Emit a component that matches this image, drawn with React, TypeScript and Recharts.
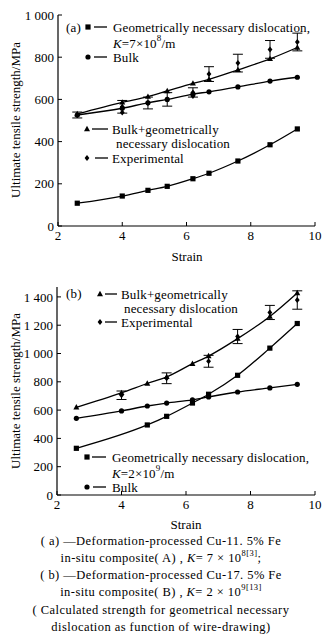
import React from 'react';
import { ComposedChart, Line, Scatter, XAxis, YAxis, ErrorBar } from 'recharts';

const FONT = '"Liberation Serif", "Times New Roman", serif';

// ---------- Panel (a) ----------
const strainA = [2.6, 4.0, 4.8, 5.4, 6.2, 6.7, 7.6, 8.6, 9.45];
const gndA = [108, 142, 169, 188, 224, 250, 308, 385, 460];
const bulkA = [526, 558, 584, 600, 625, 636, 659, 687, 705];
const sumA = [531, 586, 613, 640, 676, 695, 740, 792, 846];
const expStrainA = [2.6, 4.0, 4.0, 4.8, 5.4, 6.2, 6.2, 6.7, 7.6, 8.6, 9.45];
const expA = [526, 565, 538, 583, 600, 633, 616, 720, 772, 837, 872];
const expErrA = [14, 30, 0, 28, 32, 22, 0, 35, 42, 42, 42];
const yTicksA = [0, 200, 400, 600, 800, 1000];

// ---------- Panel (b) ----------
const strainGndB = [2.6, 4.8, 5.4, 6.2, 6.7, 7.6, 8.6, 9.45];
const gndB = [330, 495, 556, 650, 712, 846, 1038, 1212];
const strainB = [2.6, 4.0, 4.8, 5.4, 6.2, 6.7, 7.6, 8.6, 9.45];
const bulkB = [542, 594, 629, 650, 672, 693, 728, 757, 782];
const sumB = [620, 722, 788, 835, 928, 982, 1105, 1262, 1428];
const expStrainB = [4.0, 5.4, 6.7, 7.6, 8.6, 9.45];
const expB = [705, 825, 945, 1120, 1290, 1378];
const expErrB = [30, 38, 42, 50, 50, 65];
const yTicksB = [0, 200, 400, 600, 800, 1000, 1200, 1400];

const xTicks = [2, 4, 6, 8, 10];

const pts = (xs: number[], ys: number[]) => xs.map((x, i) => ({ x, y: ys[i] }));
const expPts = (xs: number[], ys: number[], es: number[]) =>
  xs.map((x, i) => ({ x, y: ys[i], err: es[i] > 0 ? es[i] : undefined }));

const fmtY = (v: number) =>
  v >= 1000 ? `${Math.floor(v / 1000)} ${String(v % 1000).padStart(3, '0')}` : String(v);

const SquareDot = (p: any) =>
  p.cx == null ? <g key={`s${p.index}`} /> : (
    <rect key={`s${p.index}`} x={p.cx - 2.6} y={p.cy - 2.6} width={5.2} height={5.2} fill="#000" />
  );
const CircleDot = (p: any) =>
  p.cx == null ? <g key={`c${p.index}`} /> : (
    <circle key={`c${p.index}`} cx={p.cx} cy={p.cy} r={2.6} fill="#000" />
  );
const TriDot = (p: any) =>
  p.cx == null ? <g key={`t${p.index}`} /> : (
    <path key={`t${p.index}`} d={`M${p.cx},${p.cy - 3.2} L${p.cx + 3},${p.cy + 2.2} L${p.cx - 3},${p.cy + 2.2} Z`} fill="#000" />
  );
const ExpShape = (p: any) => (
  <path d={`M${p.cx},${p.cy - 3} L${p.cx + 2.4},${p.cy} L${p.cx},${p.cy + 3} L${p.cx - 2.4},${p.cy} Z`} fill="#000" />
);

const tickStyle = { fill: '#000', fontSize: 13, fontFamily: FONT };

function Panel(props: any) {
  const { height, xHeight, yWidth, yMax, yTicks, gnd, bulk, sum, exp } = props;
  return (
    <ComposedChart width={322} height={height} margin={{ top: 15, right: 7, bottom: 0, left: 0 }}>
      <XAxis xAxisId="b" dataKey="x" type="number" domain={[2, 10]} ticks={xTicks} interval={0} allowDataOverflow
        height={xHeight} tickSize={-4} tickMargin={9} tick={tickStyle}
        axisLine={{ stroke: '#000', strokeWidth: 1.2 }} tickLine={{ stroke: '#000', strokeWidth: 1 }} />
      <XAxis xAxisId="t" orientation="top" dataKey="x" type="number" domain={[2, 10]} allowDataOverflow
        height={0} tick={false} tickLine={false} axisLine={{ stroke: '#000', strokeWidth: 1 }} />
      <YAxis yAxisId="l" type="number" domain={[0, yMax]} ticks={yTicks} interval={0} allowDataOverflow
        width={yWidth} tickSize={-4} tickMargin={8} tickFormatter={fmtY} tick={tickStyle}
        axisLine={{ stroke: '#000', strokeWidth: 1.2 }} tickLine={{ stroke: '#000', strokeWidth: 1 }} />
      <YAxis yAxisId="r" orientation="right" type="number" domain={[0, yMax]} allowDataOverflow
        width={0} tick={false} tickLine={false} axisLine={{ stroke: '#000', strokeWidth: 1 }} />
      <Line xAxisId="b" yAxisId="l" data={gnd} dataKey="y" type="monotone" stroke="#000" strokeWidth={1.3} dot={SquareDot} isAnimationActive={false} />
      <Line xAxisId="b" yAxisId="l" data={bulk} dataKey="y" type="monotone" stroke="#000" strokeWidth={1.3} dot={CircleDot} isAnimationActive={false} />
      <Line xAxisId="b" yAxisId="r" data={sum} dataKey="y" type="monotone" stroke="#000" strokeWidth={1.3} dot={TriDot} isAnimationActive={false} />
      <Scatter xAxisId="t" yAxisId="r" data={exp} dataKey="y" shape={ExpShape} isAnimationActive={false}>
        <ErrorBar dataKey="err" direction="y" width={5} stroke="#000" strokeWidth={1} />
      </Scatter>
    </ComposedChart>
  );
}

const Sq = ({ x, y }: { x: number; y: number }) => (
  <rect x={x - 2.6} y={y - 2.6} width={5.2} height={5.2} fill="#000" />
);
const Ci = ({ x, y }: { x: number; y: number }) => <circle cx={x} cy={y} r={2.6} fill="#000" />;
const Tr = ({ x, y }: { x: number; y: number }) => (
  <path d={`M${x},${y - 3.2} L${x + 3},${y + 2.2} L${x - 3},${y + 2.2} Z`} fill="#000" />
);
const Di = ({ x, y }: { x: number; y: number }) => (
  <path d={`M${x},${y - 3} L${x + 2.4},${y} L${x},${y + 3} L${x - 2.4},${y} Z`} fill="#000" />
);
const Dash = ({ x1, x2, y }: { x1: number; x2: number; y: number }) => (
  <line x1={x1} x2={x2} y1={y} y2={y} stroke="#000" strokeWidth={1.3} />
);

const LT = ({ x, y, children }: { x: number; y: number; children: React.ReactNode }) => (
  <text x={x} y={y} fontFamily={FONT} fontSize={13} letterSpacing={0.15} fill="#000" dominantBaseline="central">
    {children}
  </text>
);

const captionLines = [
  '( a) —Deformation-processed Cu-11. 5% Fe',
  null,
  '( b) —Deformation-processed Cu-17. 5% Fe',
  null,
  '( Calculated strength for geometrical necessary',
  'dislocation as function of wire-drawing)',
];
const captionY = [541, 558, 575, 592, 610, 627];
const CAP_FS = 12.5;
const CAP_LS = 0.45;

export default function App() {
  return (
    <div style={{ position: 'relative', width: 322, height: 638, background: '#fff', overflow: 'hidden' }}>
      <style>{'html,body{margin:0;padding:0;background:#fff;}'}</style>
      <div style={{ position: 'absolute', left: 0, top: 0 }}>
        <Panel height={270} xHeight={44} yWidth={58} yMax={1000} yTicks={yTicksA}
          gnd={pts(strainA, gndA)} bulk={pts(strainA, bulkA)} sum={pts(strainA, sumA)}
          exp={expPts(expStrainA, expA, expErrA)} />
      </div>
      <div style={{ position: 'absolute', left: 0, top: 272 }}>
        <Panel height={260} xHeight={37} yWidth={57} yMax={1470} yTicks={yTicksB}
          gnd={pts(strainGndB, gndB)} bulk={pts(strainB, bulkB)} sum={pts(strainB, sumB)}
          exp={expPts(expStrainB, expB, expErrB)} />
      </div>
      <svg width={322} height={638} style={{ position: 'absolute', left: 0, top: 0, pointerEvents: 'none' }}>
        <text x={15} y={120} transform="rotate(-90 15 120)" textAnchor="middle" dominantBaseline="central" fontFamily={FONT} fontSize={13}>
          Ultimate tensile strength/MPa
        </text>
        <text x={15} y={391} transform="rotate(-90 15 391)" textAnchor="middle" dominantBaseline="central" fontFamily={FONT} fontSize={13}>
          Ultimate tensile strength/MPa
        </text>
        <text x={187} y={256} textAnchor="middle" dominantBaseline="central" fontFamily={FONT} fontSize={13}>Strain</text>
        <text x={186} y={524} textAnchor="middle" dominantBaseline="central" fontFamily={FONT} fontSize={13}>Strain</text>

        {/* legend (a) */}
        <LT x={66} y={27}>(a)</LT>
        <Sq x={88} y={27} />
        <Dash x1={94} x2={107} y={27} />
        <LT x={113} y={27}>Geometrically necessary dislocation,</LT>
        <LT x={113} y={43}>
          <tspan fontStyle="italic">K</tspan>=7×10
          <tspan fontSize={9} dy={-5}>8</tspan>
          <tspan dy={5}>/m</tspan>
        </LT>
        <Ci x={88} y={57} />
        <Dash x1={94} x2={107} y={57} />
        <LT x={113} y={57}>Bulk</LT>
        <Tr x={87} y={129} />
        <Dash x1={92} x2={108} y={129} />
        <LT x={112} y={129}>Bulk+geometrically</LT>
        <LT x={116} y={143}>necessary dislocation</LT>
        <Di x={87} y={158} />
        <Dash x1={95} x2={108} y={158} />
        <LT x={112} y={158}>Experimental</LT>

        {/* legend (b) */}
        <LT x={66} y={293}>(b)</LT>
        <Tr x={100} y={294} />
        <Dash x1={105} x2={117} y={294} />
        <LT x={121} y={294}>Bulk+geometrically</LT>
        <LT x={124} y={308}>necessary dislocation</LT>
        <Di x={100} y={322} />
        <Dash x1={105} x2={117} y={322} />
        <LT x={121} y={322}>Experimental</LT>
        <Sq x={87} y={457} />
        <Dash x1={92} x2={106} y={457} />
        <LT x={112} y={457}>Geometrically necessary dislocation,</LT>
        <LT x={112} y={473}>
          <tspan fontStyle="italic">K</tspan>=2×10
          <tspan fontSize={9} dy={-5}>9</tspan>
          <tspan dy={5}>/m</tspan>
        </LT>
        <Ci x={87} y={487} />
        <Dash x1={93} x2={106} y={487} />
        <LT x={112} y={487}>Bulk</LT>

        {/* caption */}
        {captionLines.map((t, i) =>
          t ? (
            <text key={i} x={161} y={captionY[i]} textAnchor="middle" dominantBaseline="central" fontFamily={FONT} fontSize={CAP_FS} letterSpacing={CAP_LS}>
              {t}
            </text>
          ) : null
        )}
        <text x={161} y={captionY[1]} textAnchor="middle" dominantBaseline="central" fontFamily={FONT} fontSize={CAP_FS} letterSpacing={CAP_LS}>
          in-situ composite( A) ,{'  '}
          <tspan fontStyle="italic">K</tspan>= 7 × 10
          <tspan fontSize={8.5} dy={-5}>8[3]</tspan>
          <tspan dy={5}>;</tspan>
        </text>
        <text x={161} y={captionY[3]} textAnchor="middle" dominantBaseline="central" fontFamily={FONT} fontSize={CAP_FS} letterSpacing={CAP_LS}>
          in-situ composite( B) ,{'  '}
          <tspan fontStyle="italic">K</tspan>= 2 × 10
          <tspan fontSize={8.5} dy={-5}>9[13]</tspan>
        </text>
      </svg>
    </div>
  );
}
